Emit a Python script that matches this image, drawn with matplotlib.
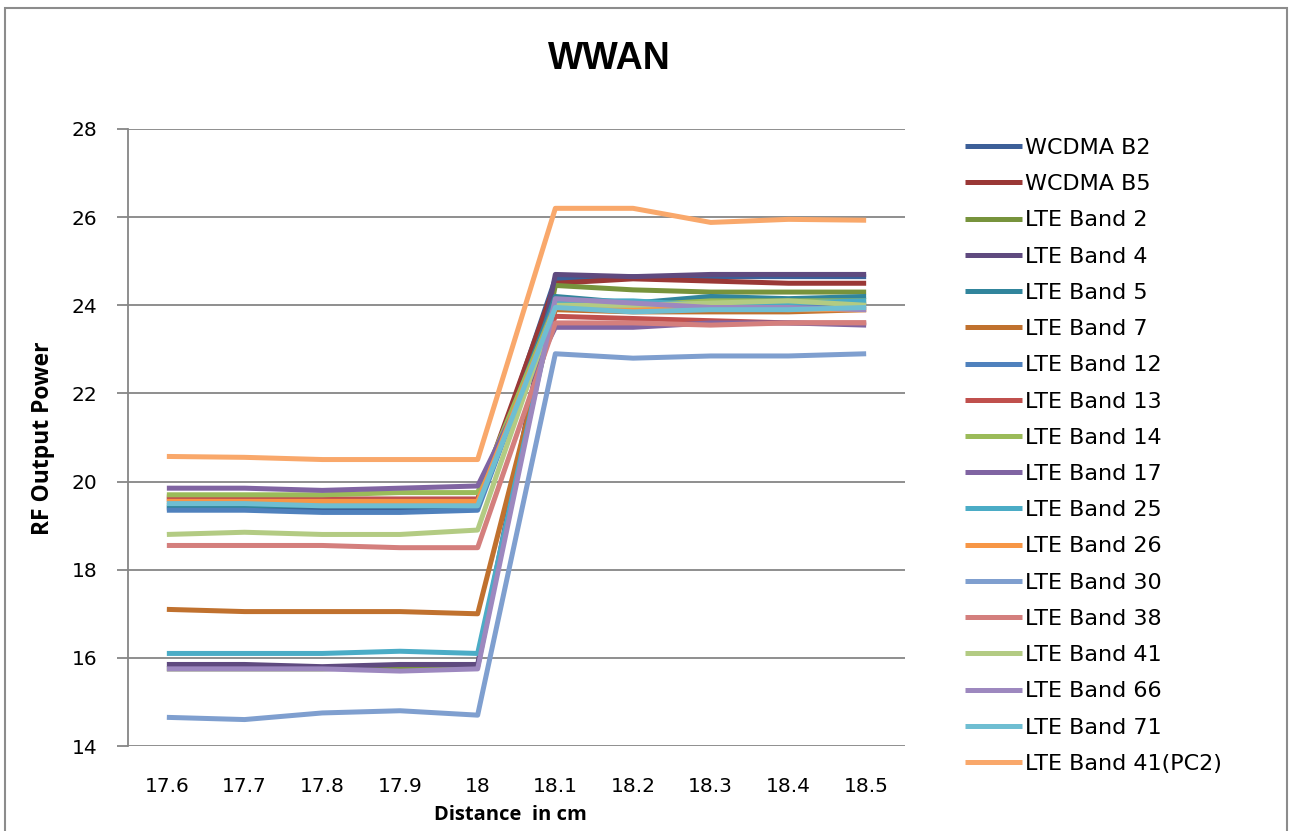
import matplotlib.pyplot as plt
from matplotlib.patches import Rectangle

distances = ['17.6', '17.7', '17.8', '17.9', '18', '18.1', '18.2', '18.3', '18.4', '18.5']

bands = ['WCDMA B2', 'WCDMA B5', 'LTE Band 2', 'LTE Band 4', 'LTE Band 5', 'LTE Band 7',
         'LTE Band 12', 'LTE Band 13', 'LTE Band 14', 'LTE Band 17', 'LTE Band 25',
         'LTE Band 26', 'LTE Band 30', 'LTE Band 38', 'LTE Band 41', 'LTE Band 66',
         'LTE Band 71', 'LTE Band 41(PC2)']

# RF output power per band
wcdma_b2 = [19.4, 19.4, 19.35, 19.35, 19.4, 24.6, 24.65, 24.65, 24.65, 24.65]
wcdma_b5 = [19.6, 19.6, 19.6, 19.6, 19.6, 24.5, 24.6, 24.55, 24.5, 24.5]
lte_b2 = [15.75, 15.75, 15.75, 15.8, 15.8, 24.45, 24.35, 24.3, 24.3, 24.3]
lte_b4 = [15.85, 15.85, 15.8, 15.85, 15.85, 24.7, 24.65, 24.7, 24.7, 24.7]
lte_b5 = [19.45, 19.45, 19.45, 19.45, 19.45, 24.2, 24.05, 24.2, 24.15, 24.2]
lte_b7 = [17.1, 17.05, 17.05, 17.05, 17.0, 23.9, 23.85, 23.85, 23.85, 23.9]
lte_b12 = [19.35, 19.35, 19.3, 19.3, 19.35, 24.1, 24.0, 24.0, 24.0, 24.0]
lte_b13 = [19.65, 19.65, 19.6, 19.6, 19.6, 23.75, 23.7, 23.65, 23.6, 23.6]
lte_b14 = [19.7, 19.7, 19.7, 19.75, 19.75, 24.0, 24.0, 24.1, 24.1, 24.1]
lte_b17 = [19.85, 19.85, 19.8, 19.85, 19.9, 23.5, 23.5, 23.6, 23.6, 23.55]
lte_b25 = [16.1, 16.1, 16.1, 16.15, 16.1, 24.1, 24.1, 24.0, 24.05, 24.1]
lte_b26 = [19.55, 19.55, 19.55, 19.55, 19.55, 23.95, 23.95, 23.95, 23.9, 23.9]
lte_b30 = [14.65, 14.6, 14.75, 14.8, 14.7, 22.9, 22.8, 22.85, 22.85, 22.9]
lte_b38 = [18.55, 18.55, 18.55, 18.5, 18.5, 23.6, 23.6, 23.55, 23.6, 23.6]
lte_b41 = [18.8, 18.85, 18.8, 18.8, 18.9, 24.0, 24.0, 24.05, 24.1, 24.0]
lte_b66 = [15.75, 15.75, 15.75, 15.7, 15.75, 24.15, 24.05, 23.95, 23.95, 23.9]
lte_b71 = [19.5, 19.5, 19.45, 19.45, 19.45, 23.95, 23.85, 23.9, 23.9, 23.95]
lte_b41_pc2 = [20.57, 20.55, 20.5, 20.5, 20.5, 26.2, 26.2, 25.88, 25.95, 25.93]

series = [wcdma_b2, wcdma_b5, lte_b2, lte_b4, lte_b5, lte_b7, lte_b12, lte_b13, lte_b14,
          lte_b17, lte_b25, lte_b26, lte_b30, lte_b38, lte_b41, lte_b66, lte_b71, lte_b41_pc2]

# Excel 2007 style palette: darker, normal, lighter accents
colors = ['#3C5F98', '#9A3836', '#77933C', '#5F4A7F', '#31859C', '#C0712E',
          '#4F81BD', '#C0504D', '#9BBB59', '#8064A2', '#4BACC6', '#F79646',
          '#7F9FCF', '#D47F7D', '#B3CB83', '#9D88BF', '#6FBED2', '#F9A86B']

W, H = 1290, 831
fig = plt.figure(figsize=(W / 100, H / 100), dpi=100)
ax = fig.add_axes([128 / W, 1 - 746 / H, (905 - 128) / W, (746 - 129) / H])

x = list(range(len(distances)))
for name, vals, c in zip(bands, series, colors):
    ax.plot(x, vals, color=c, lw=3.6, label=name, solid_capstyle='butt')

ax.set_xlim(-0.5, len(distances) - 0.5)
ax.set_ylim(14, 28)
ax.set_yticks(range(14, 29, 2))
ax.set_xticks(x)
ax.set_xticklabels(distances)

grid_c = '#868686'
ax.grid(axis='y', color=grid_c, lw=1.3)
ax.set_axisbelow(True)
for s in ['top', 'right', 'bottom']:
    ax.spines[s].set_visible(False)
ax.spines['left'].set_color(grid_c)
ax.spines['left'].set_linewidth(1.3)
ax.tick_params(axis='y', length=8, width=1.3, color=grid_c, pad=14, labelsize=14.5)
ax.tick_params(axis='x', length=0, pad=22, labelsize=14.5)

fig.text(609 / W, 1 - 59 / H, 'WWAN', ha='center', va='center',
         fontsize=27, fontweight='bold', family='Liberation Sans')
fig.text(43 / W, 1 - 438 / H, 'RF Output Power', rotation=90, ha='center', va='center',
         fontsize=16.5, fontweight='bold', family='Open Sans')
fig.text(510 / W, 1 - 815 / H, 'Distance  in cm', ha='center', va='center',
         fontsize=14.5, fontweight='bold', family='Open Sans')

ax.legend(loc='upper left', bbox_to_anchor=(965 / W, 1 - 138 / H),
          bbox_transform=fig.transFigure, frameon=False, fontsize=16,
          handlelength=2.55, handletextpad=0.15, labelspacing=0.73,
          borderpad=0, borderaxespad=0)

fig.patches.append(Rectangle((5 / W, -0.02), (1287 - 5) / W, 1 - 8 / H + 0.02,
                             transform=fig.transFigure, fill=False,
                             edgecolor='#8c8c8c', lw=1.5))

fig.savefig('out.png', dpi=100)
